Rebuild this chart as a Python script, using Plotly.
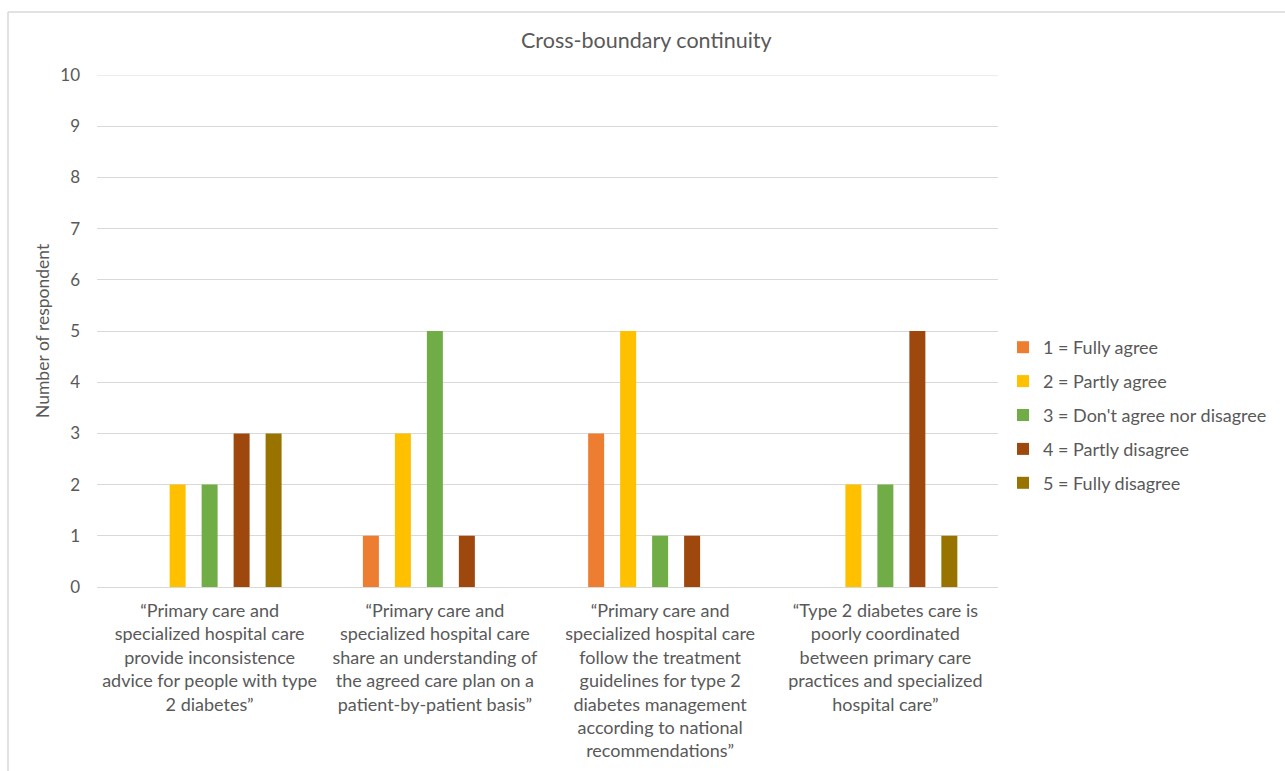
import plotly.graph_objects as go

# Survey statements (x categories)
statements = [
    "“Primary care and<br>specialized hospital care<br>provide inconsistence<br>advice for people with type<br>2 diabetes”",
    "“Primary care and<br>specialized hospital care<br>share an understanding of<br>the agreed care plan on a<br>patient-by-patient basis”",
    "“Primary care and<br>specialized hospital care<br>follow the treatment<br>guidelines for type 2<br>diabetes management<br>according to national<br>recommendations”",
    "“Type 2 diabetes care is<br>poorly coordinated<br>between primary care<br>practices and specialized<br>hospital care”",
]

# Number of respondents per answer option
fully_agree = [0, 1, 3, 0]
partly_agree = [2, 3, 5, 2]
neutral = [2, 5, 1, 2]
partly_disagree = [3, 1, 1, 5]
fully_disagree = [3, 0, 0, 1]

series_names = [
    "1 = Fully agree",
    "2 = Partly agree",
    "3 = Don't agree nor disagree",
    "4 = Partly disagree",
    "5 = Fully disagree",
]
series_values = [fully_agree, partly_agree, neutral, partly_disagree, fully_disagree]
series_colors = ["#ED7D31", "#FFC000", "#70AD47", "#9E480E", "#997300"]

W, H = 1285, 771
L, R, T, B = 97, 287, 75, 184
pw, ph = W - L - R, H - T - B

FONT = "Lato"
GRAY = "#595959"
GRID = "#d9d9d9"

fig = go.Figure()
for name, vals, col in zip(series_names, series_values, series_colors):
    fig.add_trace(go.Bar(
        x=statements, y=vals, name=name,
        marker=dict(color=col, line=dict(width=0)),
        legendgroup=name,
    ))

def px_x(x):
    return (x - L) / pw

def px_y(y):
    return (H - B - y) / ph

# light frame around the chart
fig.add_shape(type="line", xref="paper", yref="paper",
              x0=px_x(8), x1=px_x(1300), y0=px_y(12), y1=px_y(12),
              line=dict(color=GRID, width=1.5))
fig.add_shape(type="line", xref="paper", yref="paper",
              x0=px_x(8), x1=px_x(8), y0=px_y(12), y1=px_y(790),
              line=dict(color=GRID, width=1.5))
# top gridline at the axis maximum
fig.add_shape(type="line", xref="paper", yref="y",
              x0=0, x1=1, y0=10, y1=10, layer="below",
              line=dict(color=GRID, width=1))

fig.add_annotation(
    text="Number of respondent", xref="paper", yref="paper",
    x=px_x(42), xanchor="center", y=px_y(331), yanchor="middle",
    textangle=-90, showarrow=False,
    font=dict(family=FONT, size=17.5, color=GRAY),
)

fig.update_layout(
    width=W, height=H,
    margin=dict(l=L, r=R, t=T, b=B, autoexpand=False),
    paper_bgcolor="white", plot_bgcolor="white",
    font=dict(family=FONT, size=18, color=GRAY),
    title=dict(text="Cross-boundary continuity", xref="container", x=0.503,
               xanchor="center", y=1 - 40 / H, yanchor="middle",
               font=dict(family=FONT, size=21.5, color=GRAY)),
    barmode="group", bargap=0.29, bargroupgap=0.5,
    showlegend=True,
    legend=dict(x=px_x(1003), xanchor="left", y=px_y(415), yanchor="middle",
                font=dict(family=FONT, size=18, color=GRAY),
                tracegroupgap=7.5, itemwidth=30),
    xaxis=dict(showgrid=False, showline=False, ticks="", ticklabelstandoff=11,
               tickfont=dict(size=18, color=GRAY)),
    yaxis=dict(range=[0, 10], dtick=1, showgrid=True, gridcolor=GRID, gridwidth=1,
               zeroline=True, zerolinecolor=GRID, zerolinewidth=1,
               showline=False, ticks="", ticklabelstandoff=16,
               tickfont=dict(size=17, color=GRAY)),
)

fig.write_html("out.html")
